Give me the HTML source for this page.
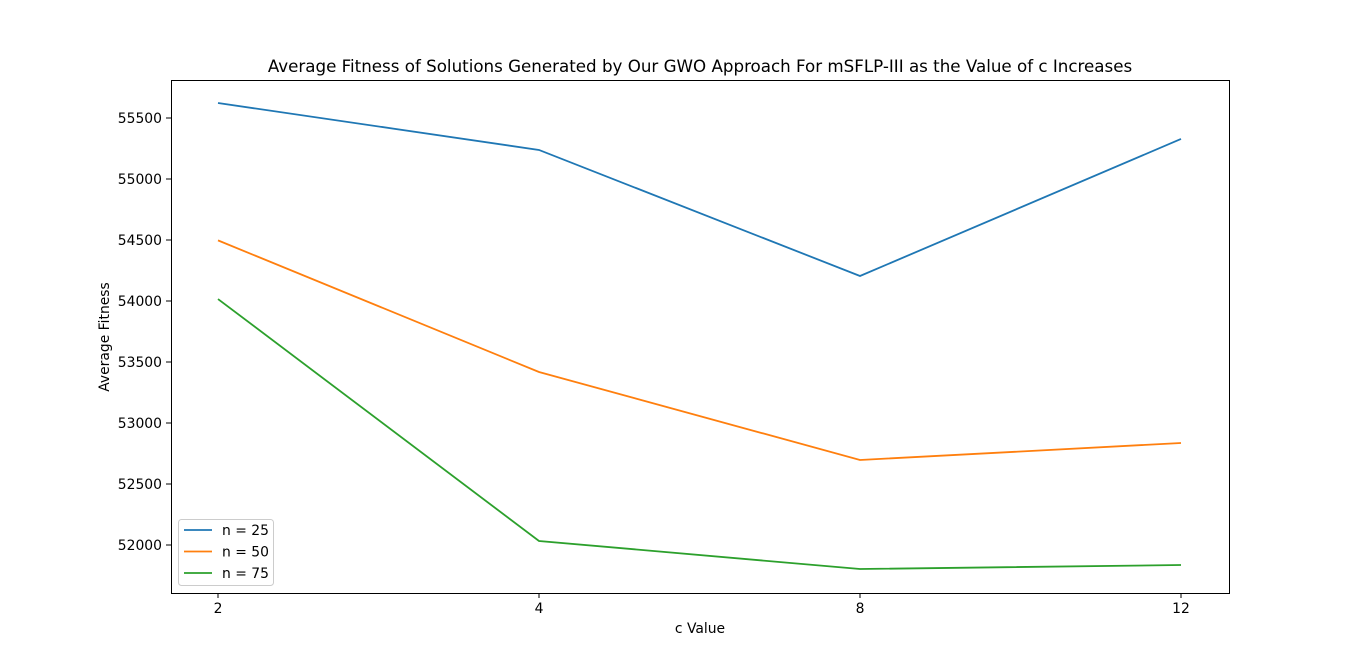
<!DOCTYPE html>
<html><head><meta charset="utf-8"><style>
body{margin:0;background:#fff;}
svg text{font-family:"DejaVu Sans","Liberation Sans",sans-serif;fill:#000;}
</style></head><body>
<svg id="chart" width="1366" height="666" xmlns="http://www.w3.org/2000/svg">
<text x="700" y="72" text-anchor="middle" font-size="16.7">Average Fitness of Solutions Generated by Our GWO Approach For mSFLP-III as the Value of c Increases</text>
<text x="700" y="633" text-anchor="middle" font-size="13.9">c Value</text>
<text transform="translate(109,337) rotate(-90)" text-anchor="middle" font-size="13.9">Average Fitness</text>
<g id="ticks"></g>
<g id="lines"></g>
<rect x="171.5" y="80.5" width="1058" height="513" fill="none" stroke="#000" stroke-width="1"/>
<g id="legend"></g>
</svg>
<script>
const categories = ["2","4","8","12"];
const yTicks = [52000,52500,53000,53500,54000,54500,55000,55500];
const seriesNames = ["n = 25","n = 50","n = 75"];
const n25 = [55623,55238,54205,55328];
const n50 = [54497,53418,52697,52836];
const n75 = [54016,52033,51803,51836];
const colors = ["#1f77b4","#ff7f0e","#2ca02c"];
const NS="http://www.w3.org/2000/svg";
const x0=218, x1=1181;
function xs(i){return x0+(x1-x0)*i/(categories.length-1);}
function ys(v){return 545-(v-52000)*(545-118)/3500;}
function mk(t,a,p){const e=document.createElementNS(NS,t);for(const k in a)e.setAttribute(k,a[k]);p.appendChild(e);return e;}
const tg=document.getElementById('ticks');
categories.forEach((c,i)=>{
  const l=mk('line',{x1:xs(i),x2:xs(i),y1:593,y2:598,stroke:'#000'},tg);
  
  
  const t=mk('text',{x:xs(i),y:613,'text-anchor':'middle','font-size':'13.9'},tg);t.textContent=c;
  
  
});
yTicks.forEach(v=>{
  const l=mk('line',{x1:166,x2:171,y1:ys(v),y2:ys(v),stroke:'#000'},tg);
  
  
  const t=mk('text',{x:162,y:ys(v)+5,'text-anchor':'end','font-size':'13.9'},tg);t.textContent=v;
  
  
});
const lg=document.getElementById('lines');
[n25,n50,n75].forEach((s,k)=>{
  const p=mk('polyline',{points:s.map((v,i)=>xs(i)+','+ys(v)).join(' '),fill:'none',stroke:colors[k],'stroke-width':'1.8'},lg);
  
  
});
const leg=document.getElementById('legend');
mk('rect',{x:178.5,y:519.5,width:95,height:66,rx:3,fill:'#fff',stroke:'#ccc'},leg);
seriesNames.forEach((n,k)=>{
  const y=530+k*21.5;
  const l=mk('line',{x1:184,x2:212,y1:y,y2:y,stroke:colors[k],'stroke-width':'1.8'},leg);
  
  
  const t=mk('text',{x:222,y:y+5,'font-size':'13.9'},leg);t.textContent=n;
  
  
});
</script>
</body></html>
